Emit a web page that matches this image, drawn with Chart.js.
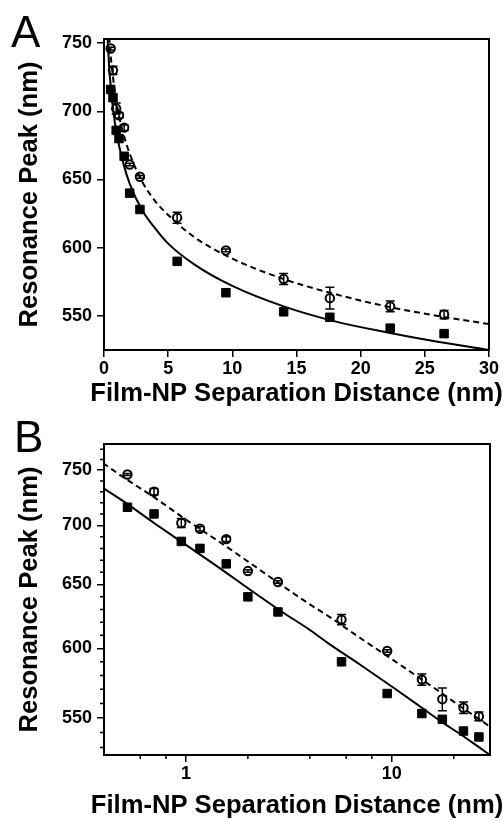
<!DOCTYPE html>
<html>
<head>
<meta charset="utf-8">
<script src="https://cdn.jsdelivr.net/npm/chart.js@4.4.1/dist/chart.umd.min.js"></script>
<style>
  html, body { margin: 0; padding: 0; background: #fff; overflow: hidden; }
  canvas { display: block; }
</style>
</head>
<body>
<canvas id="panelA" width="503" height="410"></canvas>
<canvas id="panelB" width="503" height="411"></canvas>
<script>
// film-NP separation (nm) and measured resonance peaks (nm)
const distance    = [0.52, 0.70, 0.95, 1.17, 1.57, 2.0, 2.8, 5.7, 9.5, 14.0, 17.6, 22.3, 26.5];
const peakFilled  = [716, 710, 686, 680, 667, 640, 628, 590, 567, 553, 549, 541, 537];
const peakOpen    = [746, 730, 702, 697, 688, 661, 652, 622, 598, 577, 563, 557, 551];
const peakOpenErr = [1, 3, 4, 2, 2, 1, 1, 4, 1, 4, 8, 4, 3];

// fitted curves
const fitX      = [0.25, 0.3, 0.4, 0.5, 0.7, 1, 1.5, 2, 3, 4, 5, 7, 10, 14, 18, 22, 26, 30];
const fitFilled = [760, 750, 733, 721, 702, 683, 662, 647, 627, 614, 603, 588, 572, 557, 546, 538, 531, 525];
const fitOpen   = [784, 773, 756, 743, 725, 705, 684, 669, 648, 634, 624, 608, 592, 577, 566, 557, 550, 544];

// tick values
const aTicksX = [0, 5, 10, 15, 20, 25, 30];
const aTicksY = [550, 600, 650, 700, 750];
const bTicksX = [1, 10];
const bTicksY = [550, 600, 650, 700, 750];
const bMinorX = [0.6, 0.8, 2, 4, 6, 8, 20];
const bMinorY = [530, 540, 560, 570, 580, 590, 610, 620, 630, 640, 660, 670, 680, 690, 710, 720, 730, 740, 760, 770];

const xTitle = 'Film-NP Separation Distance (nm)';
const yTitle = 'Resonance Peak (nm)';

const FONT = '"Liberation Sans", Arial, Helvetica, sans-serif';
const TITLE_FONT = 'bold 25.6px ' + FONT;
const xyPairs = (xs, ys) => xs.map((x, i) => ({ x, y: ys[i] }));

function makeDatasets() {
  return [
    { label: 'fitOpen', data: xyPairs(fitX, fitOpen), showLine: true, pointRadius: 0,
      borderColor: '#000', borderWidth: 2, borderDash: [6, 4], cubicInterpolationMode: 'monotone', order: 0 },
    { label: 'fitFilled', data: xyPairs(fitX, fitFilled), showLine: true, pointRadius: 0,
      borderColor: '#000', borderWidth: 2, cubicInterpolationMode: 'monotone', order: 0 },
    { label: 'open', data: xyPairs(distance, peakOpen), pointStyle: 'circle', pointRadius: 4.2,
      backgroundColor: '#fff', borderColor: '#000', borderWidth: 2, order: 1 },
    { label: 'filled', data: xyPairs(distance, peakFilled), pointStyle: 'rect', pointRadius: 6,
      backgroundColor: '#000', borderColor: '#000', borderWidth: 1, order: 2 }
  ];
}

const errorBars = {
  id: 'errorBars',
  afterDatasetDraw(chart, args) {
    if (chart.data.datasets[args.index].label !== 'open') return;
    const { ctx, scales: { x, y } } = chart;
    ctx.save();
    ctx.strokeStyle = '#000';
    ctx.lineWidth = 1.5;
    ctx.beginPath();
    distance.forEach((d, i) => {
      const px = x.getPixelForValue(d);
      const top = y.getPixelForValue(peakOpen[i] + peakOpenErr[i]);
      const bot = y.getPixelForValue(peakOpen[i] - peakOpenErr[i]);
      ctx.moveTo(px, top); ctx.lineTo(px, bot);
      ctx.moveTo(px - 4.5, top); ctx.lineTo(px + 4.5, top);
      ctx.moveTo(px - 4.5, bot); ctx.lineTo(px + 4.5, bot);
    });
    ctx.stroke();
    ctx.restore();
  }
};

// box, minor ticks, panel letter and x title (chart.js would squeeze the title to the axis width)
function frame(letter, lx, ly, titleY, minorX, minorY) {
  return {
    id: 'frame' + letter,
    afterDraw(chart) {
      const { ctx, chartArea: a, scales } = chart;
      ctx.save();
      ctx.strokeStyle = '#000';
      ctx.lineWidth = 2;
      ctx.strokeRect(a.left, a.top, a.right - a.left, a.bottom - a.top);
      ctx.lineWidth = 1.5;
      ctx.beginPath();
      minorX.forEach(v => {
        const px = scales.x.getPixelForValue(v);
        ctx.moveTo(px, a.bottom); ctx.lineTo(px, a.bottom + 4);
      });
      minorY.forEach(v => {
        const py = scales.y.getPixelForValue(v);
        ctx.moveTo(a.left, py); ctx.lineTo(a.left - 4, py);
      });
      ctx.stroke();
      ctx.fillStyle = '#000';
      ctx.font = '44px ' + FONT;
      ctx.fillText(letter, lx, ly);
      ctx.font = TITLE_FONT;
      ctx.textAlign = 'center';
      ctx.textBaseline = 'middle';
      ctx.fillText(xTitle, (a.left + a.right) / 2, titleY);
      ctx.restore();
    }
  };
}

function axis(tickValues, extra) {
  const horizontal = extra.position === 'bottom';
  return Object.assign({
    grid: { display: true, drawOnChartArea: false, drawTicks: true, tickLength: 7, color: '#000', lineWidth: 1.5 },
    border: { display: true, color: '#000', width: 2 },
    ticks: { color: '#000', font: { family: FONT, size: 18, weight: 'bold' }, padding: horizontal ? 1 : 5,
             autoSkip: false, maxRotation: 0, callback: v => String(v) },
    title: { display: !horizontal, text: yTitle, color: '#000', font: { family: FONT, size: 25.6, weight: 'bold' },
             padding: { top: 15, bottom: 0 } },
    afterBuildTicks: s => { s.ticks = tickValues.map(v => ({ value: v })); }
  }, extra);
}

new Chart(document.getElementById('panelA'), {
  type: 'scatter',
  data: { datasets: makeDatasets() },
  options: {
    responsive: false,
    animation: false,
    layout: { padding: { left: 0, right: 14, top: 39, bottom: 0 } },
    plugins: { legend: { display: false }, tooltip: { enabled: false } },
    scales: {
      x: axis(aTicksX, { type: 'linear', position: 'bottom', min: 0, max: 30, afterFit: s => { s.height = 60; } }),
      y: axis(aTicksY, { type: 'linear', position: 'left', min: 525, max: 753, afterFit: s => { s.width = 104; } })
    }
  },
  plugins: [errorBars, frame('A', 11, 47, 394, [], [])]
});

new Chart(document.getElementById('panelB'), {
  type: 'scatter',
  data: { datasets: makeDatasets() },
  options: {
    responsive: false,
    animation: false,
    layout: { padding: { left: 0, right: 13, top: 34, bottom: 0 } },
    plugins: { legend: { display: false }, tooltip: { enabled: false } },
    scales: {
      x: axis(bTicksX, { type: 'logarithmic', position: 'bottom', min: 0.4, max: 30, afterFit: s => { s.height = 66; } }),
      y: axis(bTicksY, { type: 'logarithmic', position: 'left', min: 525, max: 775, afterFit: s => { s.width = 104; } })
    }
  },
  plugins: [errorBars, frame('B', 14, 42, 396, bMinorX, bMinorY)]
});
</script>
</body>
</html>
